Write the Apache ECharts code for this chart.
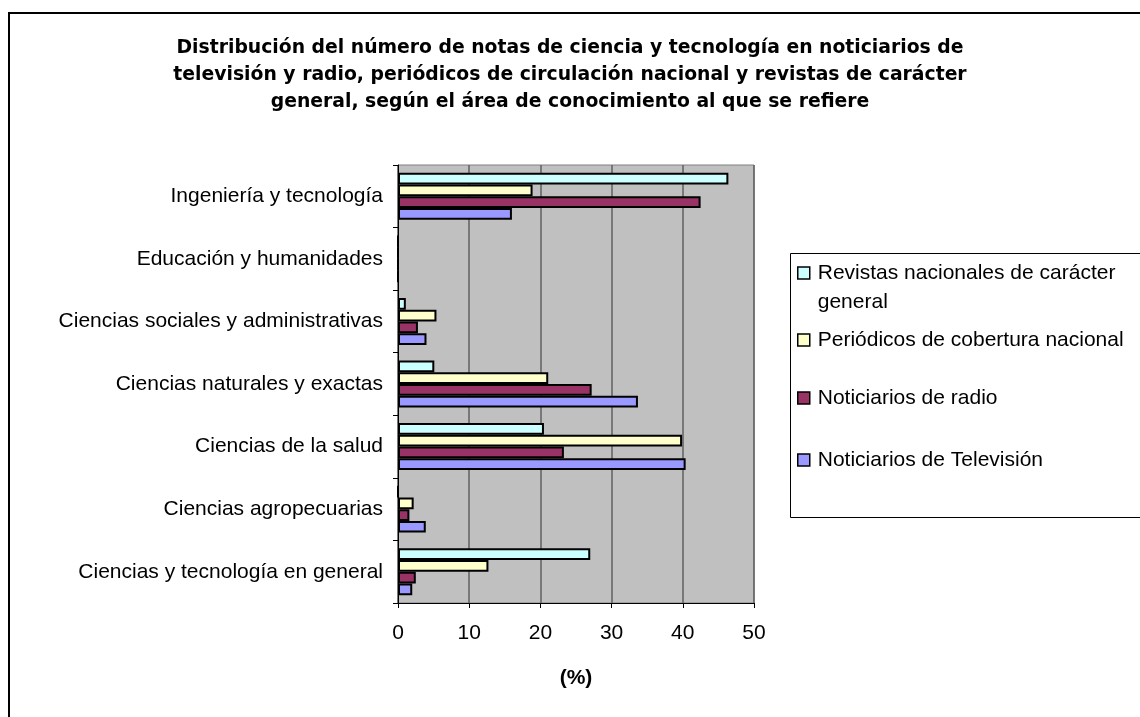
<!DOCTYPE html>
<html>
<head>
<meta charset="utf-8">
<script src="https://cdn.jsdelivr.net/npm/echarts@6/dist/echarts.min.js"></script>
<style>html,body{margin:0;padding:0;background:#fff}#c{width:1140px;height:717px}</style>
</head>
<body>
<div id="c"></div>
<script>
const titleText = 'Distribución del número de notas de ciencia y tecnología en noticiarios de\ntelevisión y radio, periódicos de circulación nacional y revistas de carácter\ngeneral, según el área de conocimiento al que se refiere';
const categories = ['Ingeniería y tecnología', 'Educación y humanidades', 'Ciencias sociales y administrativas', 'Ciencias naturales y exactas', 'Ciencias de la salud', 'Ciencias agropecuarias', 'Ciencias y tecnología en general'];
const seriesNames = ['Revistas nacionales de carácter general', 'Periódicos de cobertura nacional', 'Noticiarios de radio', 'Noticiarios de Televisión'];
const revistas = [46.4, 0, 1.1, 5.1, 20.5, 0, 27.0];
const periodicos = [18.9, 0, 5.4, 21.1, 39.9, 2.2, 12.7];
const radio = [42.5, 0, 2.8, 27.2, 23.3, 1.6, 2.5];
const television = [16.0, 0, 4.0, 33.7, 40.4, 3.9, 2.0];
const xTicks = [0, 10, 20, 30, 40, 50];
const axisTitle = '(%)';

const FONT = 'Liberation Sans, Arial, sans-serif';
const colors = ['#CCFFFF', '#FFFFCC', '#993366', '#9999FF'];
const values = [revistas, periodicos, radio, television];

const chart = echarts.init(document.getElementById('c'), null, {renderer: 'canvas'});

const legendTops = [229.5, 328, 386, 448];
const legends = seriesNames.map((name, i) => ({
  left: 797,
  top: legendTops[i],
  orient: 'vertical',
  padding: 0,
  itemWidth: 12,
  itemHeight: 12,
  icon: 'rect',
  selectedMode: false,
  itemStyle: {borderColor: '#000', borderWidth: 1.5},
  textStyle: {fontFamily: FONT, fontSize: 21, color: '#000', lineHeight: i === 0 ? 29 : 24, padding: [0, 0, 0, 3]},
  formatter: n => n === seriesNames[0] ? '\nRevistas nacionales de carácter\ngeneral' : n,
  data: [name]
}));

chart.setOption({
  backgroundColor: '#fff',
  animation: false,
  title: {
    text: titleText,
    left: 'center',
    top: 30,
    textStyle: {fontFamily: 'DejaVu Sans, sans-serif', fontSize: 18.8, fontWeight: 'bold', color: '#000', lineHeight: 27}
  },
  graphic: [
    {type: 'rect', z: 0, shape: {x: 9, y: 13, width: 1200, height: 800}, style: {fill: null, stroke: '#000', lineWidth: 2}},
    {type: 'rect', z: 0, shape: {x: 790.5, y: 253.5, width: 400, height: 264}, style: {fill: '#fff', stroke: '#000', lineWidth: 1}}
  ],
  legend: legends,
  grid: {
    left: 398, right: 386, top: 165, bottom: 114,
    show: true, backgroundColor: '#C0C0C0', borderColor: '#808080', borderWidth: 1
  },
  xAxis: {
    type: 'value', min: xTicks[0], max: xTicks[xTicks.length - 1], interval: 10,
    name: axisTitle, nameLocation: 'middle', nameGap: 65,
    nameTextStyle: {fontFamily: FONT, fontSize: 21, fontWeight: 'bold', color: '#000'},
    axisLine: {show: true, lineStyle: {color: '#000', width: 1}},
    axisTick: {show: true, length: 5, lineStyle: {color: '#000'}},
    axisLabel: {fontFamily: FONT, fontSize: 21, color: '#000', margin: 20},
    splitLine: {show: true, lineStyle: {color: '#606060', width: 1.5}}
  },
  yAxis: {
    type: 'category', data: categories, inverse: true,
    axisLine: {show: true, lineStyle: {color: '#000', width: 1}},
    axisTick: {show: true, length: 5, lineStyle: {color: '#000'}},
    axisLabel: {fontFamily: FONT, fontSize: 21, color: '#000', margin: 15},
    splitLine: {show: false}
  },
  series: seriesNames.map((name, i) => ({
    name: name,
    type: 'bar',
    data: values[i],
    barGap: '0%',
    barCategoryGap: '25%',
    itemStyle: {color: colors[i], borderColor: '#000', borderWidth: 2}
  }))
});
</script>
</body>
</html>
